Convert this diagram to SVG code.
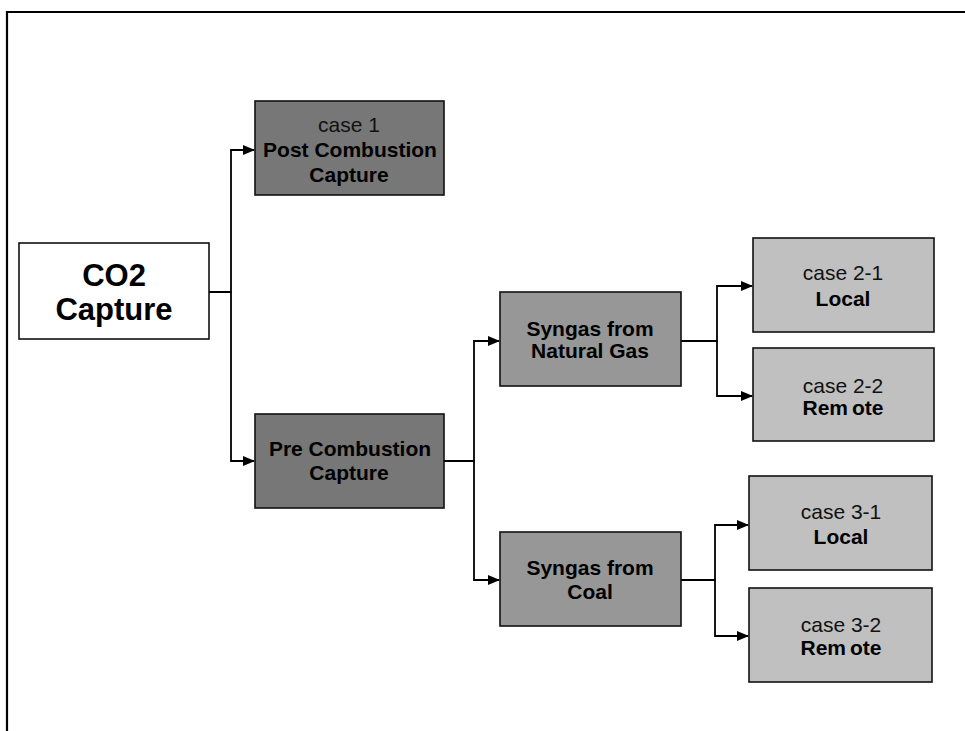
<svg xmlns="http://www.w3.org/2000/svg" width="965" height="731" viewBox="0 0 965 731">
<style>
.box{stroke:#111;stroke-width:1.6}
.white{fill:#ffffff}
.dark{fill:#777777}
.mid{fill:#979797}
.light{fill:#c0c0c0}
text{font-family:"Liberation Sans",Arial,sans-serif;text-anchor:middle;fill:#000}
.b{font-weight:bold;font-size:21px}
.r{font-size:21px;fill:#111}
.big{font-weight:bold;font-size:31px}
.conn{fill:none;stroke:#000;stroke-width:1.8}
</style>
<defs>
<marker id="arr" markerUnits="userSpaceOnUse" markerWidth="12" markerHeight="10" refX="11" refY="5" orient="auto">
<path d="M0,0 L12,5 L0,10 Z" fill="#000"/>
</marker>
</defs>
<rect width="965" height="731" fill="#fff"/>
<path d="M7,731 V12 H965" fill="none" stroke="#000" stroke-width="2.2"/>
<g id="connectors">
<path class="conn" d="M207,292 H231 V150 H254" marker-end="url(#arr)"/>
<path class="conn" d="M231,292 V461 H254" marker-end="url(#arr)"/>
<path class="conn" d="M444,461 H474 V341 H499" marker-end="url(#arr)"/>
<path class="conn" d="M474,461 V580 H499" marker-end="url(#arr)"/>
<path class="conn" d="M681,341 H717 V286 H752" marker-end="url(#arr)"/>
<path class="conn" d="M717,341 V396 H752" marker-end="url(#arr)"/>
<path class="conn" d="M681,580 H715 V525 H748" marker-end="url(#arr)"/>
<path class="conn" d="M715,580 V636 H748" marker-end="url(#arr)"/>
</g>
<g id="co2">
<rect class="box white" x="19" y="243" width="190" height="96"/>
<text class="big" x="114" y="286">CO2</text>
<text class="big" x="114" y="320">Capture</text>
</g>
<g id="post">
<rect class="box dark" x="255" y="101" width="189" height="94"/>
<text class="r" x="349" y="132">case 1</text>
<text class="b" x="350" y="157">Post Combustion</text>
<text class="b" x="349" y="182">Capture</text>
</g>
<g id="pre">
<rect class="box dark" x="255" y="414" width="189" height="94"/>
<text class="b" x="350" y="456">Pre Combustion</text>
<text class="b" x="349" y="480">Capture</text>
</g>
<g id="syngas-ng">
<rect class="box mid" x="500" y="292" width="181" height="94"/>
<text class="b" x="590" y="336">Syngas from</text>
<text class="b" x="590" y="358">Natural Gas</text>
</g>
<g id="syngas-coal">
<rect class="box mid" x="500" y="532" width="181" height="94"/>
<text class="b" x="590" y="575">Syngas from</text>
<text class="b" x="590" y="599">Coal</text>
</g>
<g id="case21">
<rect class="box light" x="753" y="238" width="181" height="94"/>
<text class="r" x="843" y="280">case 2-1</text>
<text class="b" x="843" y="306">Local</text>
</g>
<g id="case22">
<rect class="box light" x="753" y="348" width="181" height="93"/>
<text class="r" x="843" y="393">case 2-2</text>
<text class="b" x="843" y="415"><tspan>Rem</tspan><tspan dx="4">ote</tspan></text>
</g>
<g id="case31">
<rect class="box light" x="749" y="476" width="183" height="94"/>
<text class="r" x="841" y="519">case 3-1</text>
<text class="b" x="841" y="544">Local</text>
</g>
<g id="case32">
<rect class="box light" x="749" y="588" width="183" height="94"/>
<text class="r" x="841" y="632">case 3-2</text>
<text class="b" x="841" y="655"><tspan>Rem</tspan><tspan dx="4">ote</tspan></text>
</g>
</svg>
